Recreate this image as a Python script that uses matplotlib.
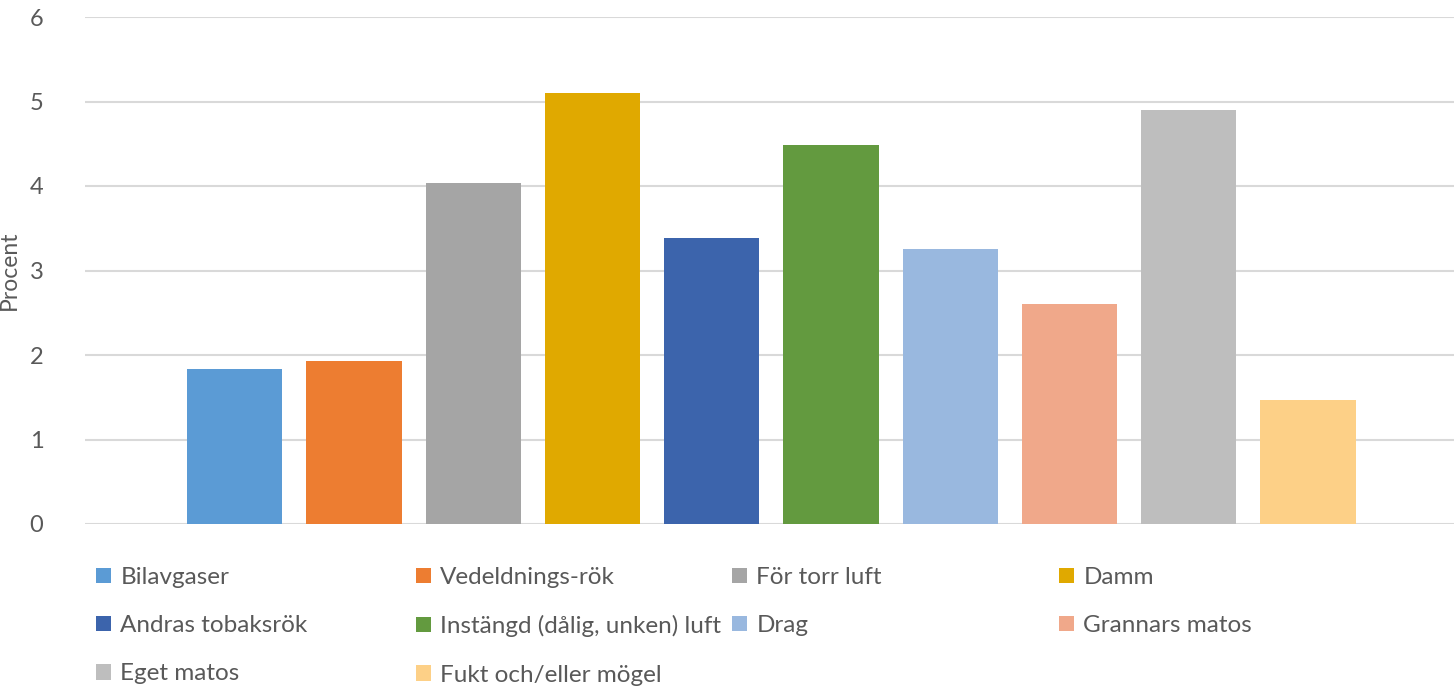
import numpy as np
import matplotlib
matplotlib.use("Agg")
import matplotlib.pyplot as plt

plt.rcParams['font.family'] = ['Lato', 'DejaVu Sans']

# data
labels = ["Bilavgaser", "Vedeldnings-rök", "För torr luft", "Damm",
          "Andras tobaksrök", "Instängd (dålig, unken) luft", "Drag",
          "Grannars matos", "Eget matos", "Fukt och/eller mögel"]
values = [1.83, 1.93, 4.03, 5.10, 3.38, 4.48, 3.25, 2.60, 4.90, 1.47]
colors = ["#5B9BD5", "#ED7D31", "#A5A5A5", "#E0A900", "#3C64AC",
          "#639A3F", "#99B8DF", "#F0A88A", "#BEBEBE", "#FDD087"]
yticks = [0, 1, 2, 3, 4, 5, 6]

txt = "#595959"
W, H = 1454, 688
fig = plt.figure(figsize=(W / 100, H / 100), dpi=100)
ax = fig.add_axes([85 / W, 1 - 524 / H, 1 - 85 / W, (524 - 17) / H])

step = 1.25
handles = []
for i, (lab, v, c) in enumerate(zip(labels, values, colors)):
    b = ax.bar(i * step, v, width=1.0, color=c, label=lab, zorder=2)
    handles.append(b)

ax.set_xlim(-1.57, 12.78)
ax.set_ylim(0, 6)
ax.set_yticks(yticks)
ax.yaxis.grid(True, color="#D9D9D9", linewidth=1.5, zorder=0)
ax.set_axisbelow(True)
ax.set_xticks([])
for s in ax.spines.values():
    s.set_visible(False)
ax.tick_params(axis="y", length=0, pad=30, labelsize=17, labelcolor=txt)
ax.set_ylabel("Procent", fontsize=16.5, color=txt)
ax.yaxis.set_label_coords(-65 / 1369, 0.5)

# legend laid out in fixed-width columns like the original
col_x = [96, 416, 732, 1059]
row_y = 567
for c in range(4):
    idx = [k for k in range(len(labels)) if k % 4 == c]
    fig.legend([handles[k] for k in idx], [labels[k] for k in idx],
               loc="upper left", bbox_to_anchor=(col_x[c] / W, 1 - row_y / H),
               frameon=False, fontsize=17.5, labelcolor=txt,
               handlelength=0.6, handleheight=0.6, handletextpad=0.4,
               labelspacing=1.12, borderpad=0, borderaxespad=0)

fig.savefig("out.png", dpi=100)
